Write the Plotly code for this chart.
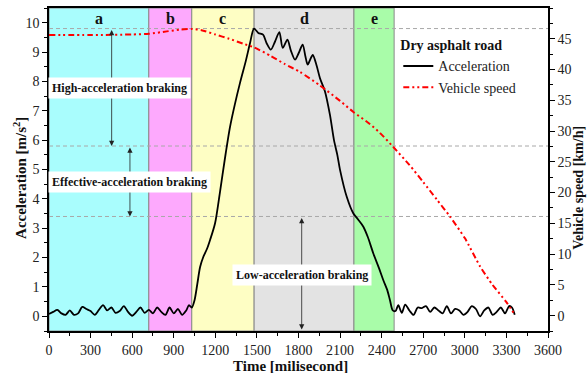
import plotly.graph_objects as go

# Braking phases (ms)
phase_names = ["a", "b", "c", "d", "e"]
phase_start = [0, 720, 1030, 1480, 2200]
phase_end = [720, 1030, 1480, 2200, 2490]
phase_colors = ["#A9FDFD", "#FDA9FD", "#FEFEC4", "#E3E3E3", "#A9FCA9"]

# Acceleration threshold levels (m/s^2)
threshold_levels = [9.8, 5.8, 3.4]

# Acceleration signal
acc_time = [0, 30, 60, 90, 120, 150, 180, 210, 240, 270, 300, 330, 360, 390, 420, 450,
            480, 510, 540, 570, 600, 630, 660, 690, 720, 750, 780, 810, 840, 870, 900,
            930, 960, 990, 1010, 1030, 1050, 1070, 1090, 1113, 1140, 1162, 1198, 1234,
            1270, 1306, 1340, 1378, 1420, 1450, 1479, 1510, 1544, 1570, 1600, 1630,
            1662, 1686, 1720, 1745, 1775, 1800, 1830, 1850, 1866, 1885, 1903, 1930,
            1955, 1991, 2027, 2056, 2080, 2100, 2148, 2196, 2230, 2268, 2300, 2340,
            2380, 2412, 2440, 2460, 2480, 2500, 2520, 2545, 2570, 2600, 2630, 2660,
            2690, 2720, 2750, 2780, 2810, 2840, 2870, 2900, 2930, 2960, 2990, 3020,
            3050, 3080, 3110, 3140, 3170, 3200, 3230, 3260, 3290, 3320, 3340, 3360, 3370]
acc_value = [0.08, 0.15, 0.22, 0.1, 0.05, 0.2, 0.05, 0.1, 0.32, 0.25, 0.18, 0.05, 0.22,
             0.38, 0.2, 0.3, 0.12, 0.18, 0.35, 0.15, 0.02, 0.15, 0.3, 0.12, 0.22, 0.1,
             0.3, 0.15, 0.05, 0.3, 0.1, 0.25, 0.05, 0.2, 0.38, 0.3, 0.55, 1.1, 1.68,
             2.02, 2.3, 2.6, 3.17, 4.25, 5.4, 6.45, 7.2, 7.95, 8.7, 9.3, 9.8, 9.65, 9.59,
             9.3, 9.08, 9.35, 9.68, 9.14, 9.42, 9.05, 8.74, 8.95, 9.25, 8.85, 8.57, 8.75,
             8.9, 8.55, 8.11, 7.66, 6.86, 6.0, 5.5, 4.98, 4.07, 3.5, 3.3, 3.05, 2.7,
             2.14, 1.65, 1.23, 0.9, 0.55, 0.2, 0.18, 0.38, 0.12, 0.4, 0.2, 0.05, 0.3,
             0.28, 0.35, 0.15, 0.3, 0.2, 0.1, 0.35, 0.1, 0.25, 0.2, 0.05, 0.15, 0.35,
             0.25, 0.0, 0.2, 0.3, 0.05, 0.15, 0.3, 0.1, 0.35, 0.3, 0.05]

# Vehicle speed
speed_time = [0, 300, 600, 720, 850, 950, 1030, 1100, 1200, 1300, 1400, 1480, 1600, 1700,
              1811, 1955, 2100, 2196, 2300, 2388, 2484, 2600, 2700, 2800, 2893, 3000,
              3110, 3200, 3300, 3362]
speed_value = [45.6, 45.6, 45.7, 45.8, 46.2, 46.5, 46.6, 46.4, 45.7, 45.0, 44.2, 43.6,
               42.2, 40.9, 39.6, 37.4, 34.9, 33.1, 31.4, 29.7, 27.4, 24.5, 21.7, 18.8,
               16.1, 12.6, 8.0, 5.0, 2.2, 0.1]

x_ticks = [0, 300, 600, 900, 1200, 1500, 1800, 2100, 2400, 2700, 3000, 3300, 3600]
acc_ticks = [0, 1, 2, 3, 4, 5, 6, 7, 8, 9, 10]
speed_ticks = [0, 5, 10, 15, 20, 25, 30, 35, 40, 45]

# Zone labels: text, x, y, arrow x, arrow y-from, arrow y-to
zone_text = ["High-acceleration braking", "Effective-acceleration braking",
             "Low-acceleration braking"]
zone_text_x = [512, 584, 1827]
zone_text_y = [7.77, 4.58, 1.40]
zone_arrow_x = [452, 584, 1823]
zone_arrow_top = [9.8, 5.8, 3.4]
zone_arrow_bottom = [5.8, 3.4, -0.45]

SERIF = "Liberation Serif"

fig = go.Figure()

fig.add_trace(go.Scatter(
    x=acc_time, y=acc_value, name="Acceleration", mode="lines",
    line=dict(color="black", width=1.8, shape="spline", smoothing=0.8),
))
fig.add_trace(go.Scatter(
    x=speed_time, y=speed_value, name="Vehicle speed", mode="lines", yaxis="y2",
    line=dict(color="#FF0000", width=2, shape="spline", smoothing=0.6,
              dash="6px,3px,2px,3px,2px,3px"),
))

shapes = []
for s, e, c in zip(phase_start, phase_end, phase_colors):
    shapes.append(dict(type="rect", xref="x", yref="paper", x0=s, x1=e, y0=0, y1=1,
                       fillcolor=c, line=dict(color="#8A8A8A", width=1), layer="below"))
for lvl in threshold_levels:
    shapes.append(dict(type="line", xref="paper", yref="y", x0=0, x1=1, y0=lvl, y1=lvl,
                       line=dict(color="#A8A8A8", width=1, dash="4px,3px"), layer="below"))

annotations = []
for name, s, e in zip(phase_names, phase_start, phase_end):
    annotations.append(dict(x=(s + e) / 2, y=10.15, xref="x", yref="y", text=f"<b>{name}</b>",
                            showarrow=False, font=dict(family=SERIF, size=16, color="#111")))
for ax_, y0, y1 in zip(zone_arrow_x, zone_arrow_top, zone_arrow_bottom):
    annotations.append(dict(x=ax_, y=y1, ax=ax_, ay=y0, xref="x", yref="y", axref="x",
                            ayref="y", text="", showarrow=True, arrowhead=2, startarrowhead=2,
                            arrowside="end+start", arrowsize=1.3, arrowwidth=0.8,
                            arrowcolor="#222"))
for t, tx, ty in zip(zone_text, zone_text_x, zone_text_y):
    annotations.append(dict(x=tx, y=ty, xref="x", yref="y", text=f"<b>{t}</b>",
                            showarrow=False, bgcolor="white", borderpad=3,
                            font=dict(family=SERIF, size=12, color="#111")))

# Axis titles
annotations.append(dict(x=0.483, y=-0.108, xref="paper", yref="paper",
                        xanchor="center", yanchor="middle",
                        text="<b>Time [milisecond]</b>", showarrow=False,
                        font=dict(family=SERIF, size=15, color="#111")))
annotations.append(dict(x=-0.058, y=0.474, xref="paper", yref="paper", textangle=-90,
                        xanchor="center", yanchor="middle",
                        text="<b>Acceleration [m/s<sup>2</sup>]</b>", showarrow=False,
                        font=dict(family=SERIF, size=15, color="#111")))
annotations.append(dict(x=1.062, y=0.443, xref="paper", yref="paper", textangle=-90,
                        xanchor="center", yanchor="middle",
                        text="<b>Vehicle speed [km/h]</b>", showarrow=False,
                        font=dict(family=SERIF, size=14, color="#111")))

tickfont = dict(family=SERIF, size=14, color="#222")
fig.update_layout(
    width=587, height=373,
    margin=dict(l=49, r=39, t=8, b=42),
    plot_bgcolor="white", paper_bgcolor="white",
    font=dict(family=SERIF, size=14, color="#222"),
    shapes=shapes, annotations=annotations,
    xaxis=dict(range=[0, 3600], tickvals=x_ticks, ticks="outside", ticklen=5,
               tickcolor="black", tickwidth=1.2,
               minor=dict(dtick=150, tick0=0, ticks="outside", ticklen=3, tickcolor="black"),
               showline=True, linecolor="black", linewidth=1.5, mirror=True,
               showgrid=False, zeroline=False, tickfont=tickfont, automargin=False),
    yaxis=dict(range=[-0.5, 10.5], tickvals=acc_ticks, ticks="outside", ticklen=5,
               tickcolor="black", tickwidth=1.2,
               minor=dict(dtick=0.5, tick0=0, ticks="outside", ticklen=3, tickcolor="black"),
               showline=True, linecolor="black", linewidth=1.5, mirror=True,
               showgrid=False, zeroline=False, tickfont=tickfont, automargin=False),
    yaxis2=dict(range=[-2.5, 50], tickvals=speed_ticks, overlaying="y", side="right",
                ticks="outside", ticklen=5, tickcolor="black", tickwidth=1.2,
                minor=dict(dtick=2.5, tick0=0, ticks="outside", ticklen=3, tickcolor="black"),
                showline=True, linecolor="black", linewidth=1.5,
                showgrid=False, zeroline=False, tickfont=tickfont, automargin=False),
    legend=dict(x=0.70, y=0.925, xanchor="left", yanchor="top",
                bgcolor="rgba(0,0,0,0)", borderwidth=0,
                title=dict(text="<b>Dry asphalt road</b>",
                           font=dict(family=SERIF, size=14, color="#111")),
                font=dict(family=SERIF, size=14, color="#222"),
                itemwidth=30, tracegroupgap=0),
    showlegend=True,
)

fig.write_html("out.html")
